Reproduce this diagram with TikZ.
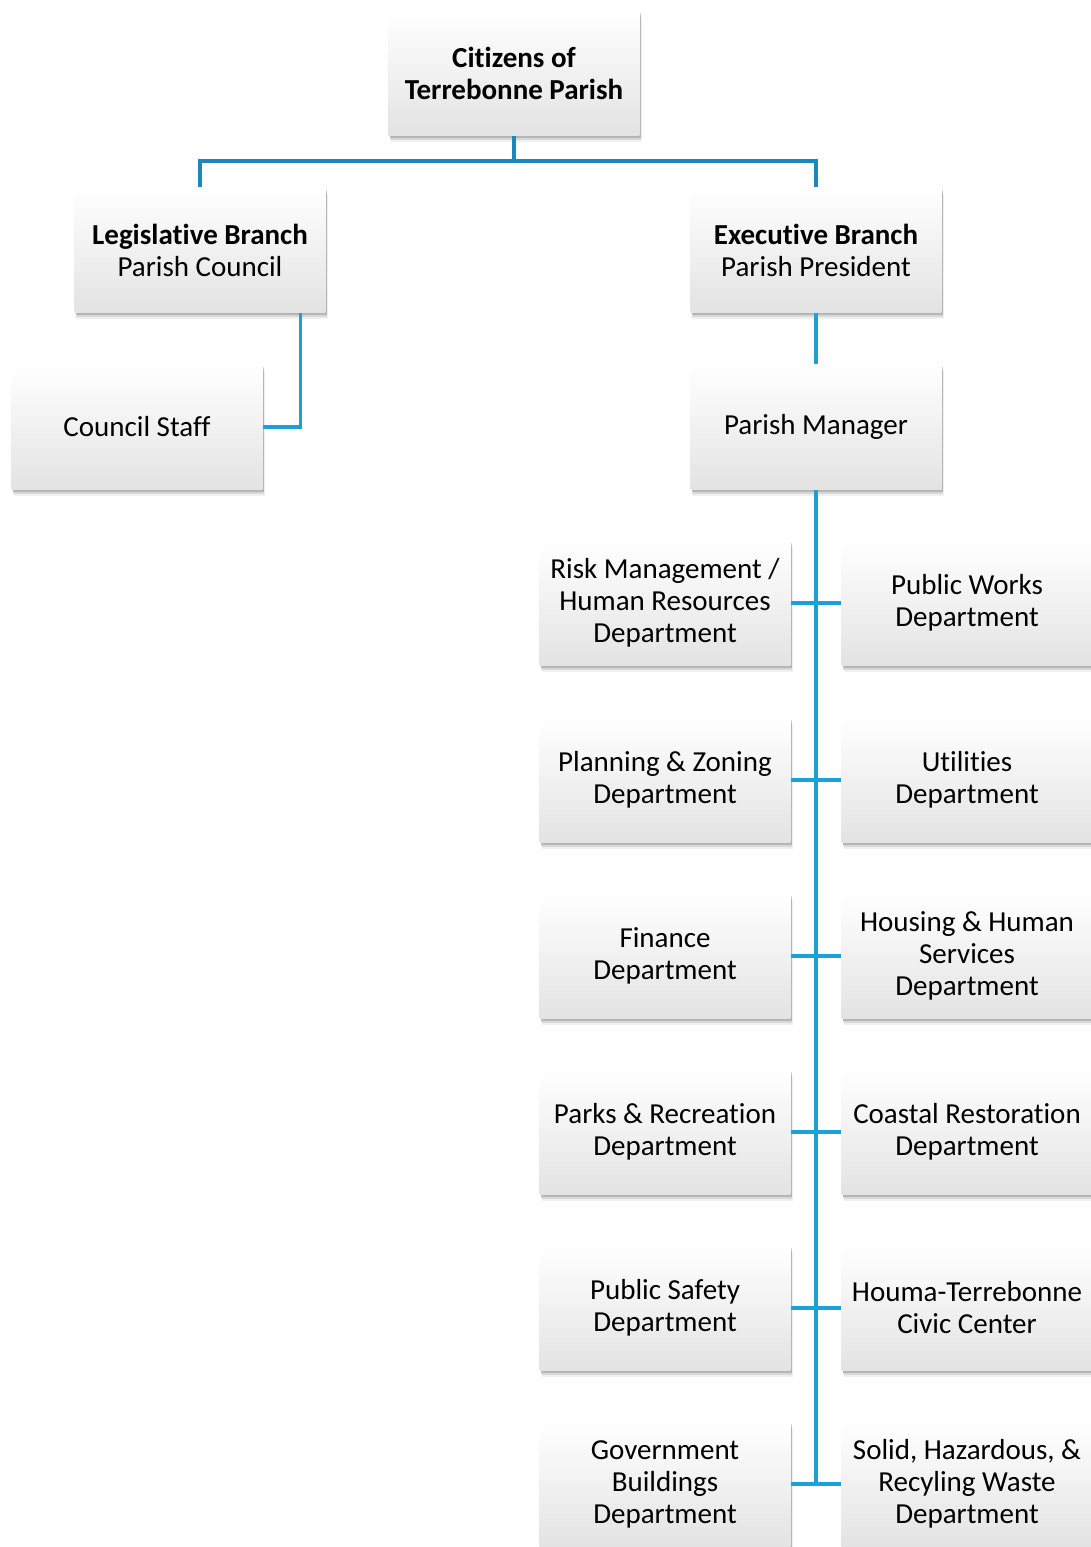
\documentclass[tikz,border=0pt]{standalone}
\usepackage{fontspec}
\setmainfont[Ligatures={NoCommon}]{Carlito}
\usetikzlibrary{shadows,positioning,calc}
\definecolor{linkblue}{HTML}{1A88BA}
\definecolor{spineblue}{HTML}{1DA0D6}

\begin{document}
\begin{tikzpicture}[
    x=0.02cm, y=-0.02cm,
    box/.style={rectangle, minimum width=5.02cm, minimum height=2.5cm, inner sep=2pt, align=center, top color=white, middle color=white, bottom color=black!11, font=\fontsize{16.5}{18.2}\selectfont,
        general shadow={shadow xshift=1.6pt, shadow yshift=-3.6pt, opacity=0.06, fill=black},
        general shadow={shadow xshift=1.1pt, shadow yshift=-2.4pt, opacity=0.1, fill=black},
        general shadow={shadow xshift=0.6pt, shadow yshift=-1.2pt, opacity=0.16, fill=black}},
    link/.style={line width=1.8pt, linkblue},
    spine/.style={line width=1.8pt, spineblue}
]
    \useasboundingbox (0,0) rectangle (1091,1547);

    % Top of the parish
    \node[box] (citizens) at (514,73) {\textbf{Citizens of}\\\textbf{Terrebonne Parish}};
    \node[box] (legis) at (200,250) {\textbf{Legislative Branch}\\Parish Council};
    \node[box] (exec) at (816,250) {\textbf{Executive Branch}\\Parish President};
    \node[box] (staff) at (137,427) {Council Staff};
    \node[box] (manager) at (816,427) {Parish Manager};

    % Departments, left column
    \node[box] (risk) at (665,603) {Risk Management /\\Human Resources\\Department};
    \node[box] (planning) at (665,780) {Planning \& Zoning\\Department};
    \node[box] (finance) at (665,956) {Finance\\Department};
    \node[box] (parks) at (665,1132) {Parks \& Recreation\\Department};
    \node[box] (safety) at (665,1308) {Public Safety\\Department};
    \node[box] (buildings) at (665,1484) {Government\\Buildings\\Department};

    % Departments, right column
    \node[box] (works) at (967,603) {Public Works\\Department};
    \node[box] (utilities) at (967,780) {Utilities\\Department};
    \node[box] (housing) at (967,956) {Housing \& Human\\Services\\Department};
    \node[box] (coastal) at (967,1132) {Coastal Restoration\\Department};
    \node[box] (civic) at (967,1308) {Houma-Terrebonne\\Civic Center};
    \node[box] (waste) at (967,1484) {Solid, Hazardous, \&\\Recyling Waste\\Department};

    % Branch connectors
    \coordinate (bar) at (514,161);
    \draw[link] (citizens.south) -- (bar);
    \draw[link] (legis.north) |- (bar) -| (exec.north);
    \draw[spine] ([xshift=-0.5cm]legis.south east) |- (staff.east);
    \draw[spine] (exec) -- (manager);

    % Spine and department rows
    \draw[spine] (manager.south) -- (manager.south |- buildings.east);
    \draw[spine] (risk.east) -- (works.west);
    \draw[spine] (planning.east) -- (utilities.west);
    \draw[spine] (finance.east) -- (housing.west);
    \draw[spine] (parks.east) -- (coastal.west);
    \draw[spine] (safety.east) -- (civic.west);
    \draw[spine] (buildings.east) -- (waste.west);
\end{tikzpicture}
\end{document}
